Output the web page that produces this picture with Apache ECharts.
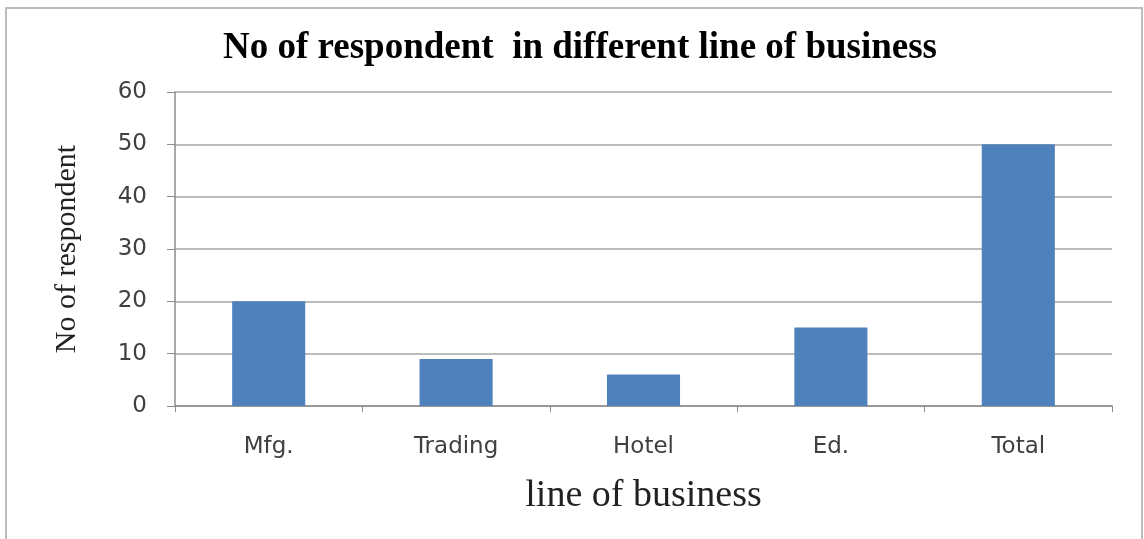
<!DOCTYPE html>
<html>
<head>
<meta charset="utf-8">
<script src="https://cdn.jsdelivr.net/npm/echarts@6/dist/echarts.min.js"></script>
<style>html,body{margin:0;padding:0;background:#fff}#c{width:1144px;height:539px}</style>
</head>
<body>
<div id="c"></div>
<script>
const categories = ['Mfg.', 'Trading', 'Hotel', 'Ed.', 'Total'];
const respondents = [20, 9, 6, 15, 50];
const yTicks = [0, 10, 20, 30, 40, 50, 60];

const chart = echarts.init(document.getElementById('c'), null, {renderer: 'canvas'});
chart.setOption({
  animation: false,
  backgroundColor: '#fff',
  title: {
    text: 'No of respondent  in different line of business',
    left: 575, top: 25, textAlign: 'center',
    textStyle: {fontFamily: 'Liberation Serif', fontWeight: 'bold', fontSize: 37, color: '#000'}
  },
  graphic: [{
    type: 'rect', shape: {x: 6, y: 8, width: 1136, height: 560},
    style: {fill: 'none', stroke: '#bdbdbd', lineWidth: 2}, silent: true
  }],
  grid: {left: 175, right: 32, top: 92, bottom: 133, containLabel: false, outerBoundsMode: 'none'},
  xAxis: {
    type: 'category', data: categories, boundaryGap: true,
    name: 'line of business', nameLocation: 'middle', nameGap: 71,
    nameTextStyle: {fontFamily: 'Liberation Serif', fontSize: 38, color: '#222'},
    axisLine: {show: true, lineStyle: {color: '#8c8c8c', width: 1.5}},
    axisTick: {show: true, length: 6, lineStyle: {color: '#8c8c8c'}},
    axisLabel: {margin: 30, fontFamily: 'DejaVu Sans', fontSize: 23, color: '#404040'}
  },
  yAxis: {
    type: 'value', min: yTicks[0], max: yTicks[yTicks.length - 1], interval: 10,
    name: 'No of respondent', nameLocation: 'middle', nameGap: 93, nameRotate: 90,
    nameTextStyle: {fontFamily: 'Liberation Serif', fontSize: 30, color: '#222'},
    axisLine: {show: true, lineStyle: {color: '#8c8c8c', width: 1.5}},
    axisTick: {show: true, length: 8, lineStyle: {color: '#8c8c8c'}},
    axisLabel: {margin: 28, fontFamily: 'DejaVu Sans', fontSize: 23, color: '#404040'},
    splitLine: {show: true, lineStyle: {color: '#a6a6a6', width: 1.5}}
  },
  series: [{
    type: 'bar', data: respondents, barWidth: '39%',
    itemStyle: {color: '#4f81bd'}
  }]
});
</script>
</body>
</html>
